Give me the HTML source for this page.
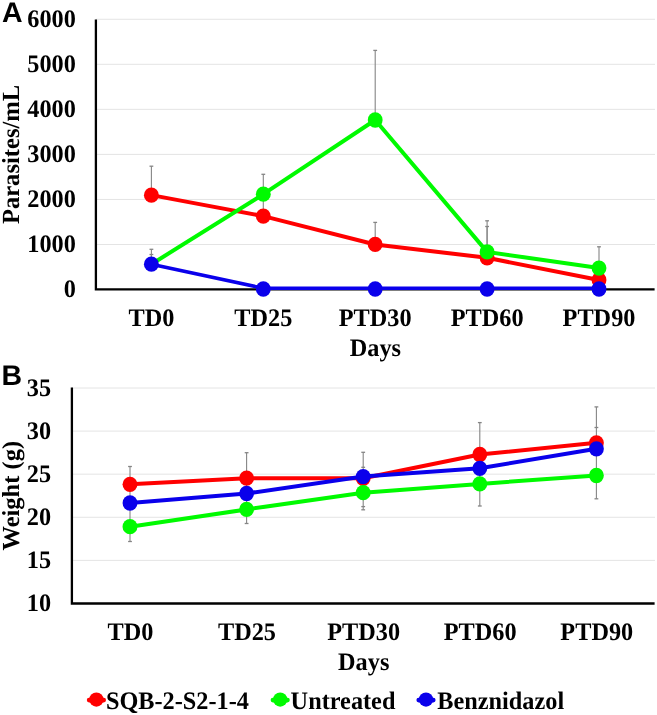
<!DOCTYPE html><html><head><meta charset="utf-8"><style>html,body{margin:0;padding:0;background:#fff;overflow:hidden;}svg{display:block;will-change:transform;}text{text-rendering:geometricPrecision;}.s{font-family:"Liberation Serif",serif;font-weight:bold;fill:#000;}.p{font-family:"Liberation Sans",sans-serif;font-weight:bold;fill:#000;}</style></head><body>
<svg width="657" height="715" viewBox="0 0 657 715" text-rendering="geometricPrecision">
<rect width="657" height="715" fill="#fff"/>
<line x1="95.90" y1="19.25" x2="655.00" y2="19.25" stroke="#e4e4e4" stroke-width="1.0"/>
<line x1="95.90" y1="64.30" x2="655.00" y2="64.30" stroke="#e4e4e4" stroke-width="1.0"/>
<line x1="95.90" y1="109.35" x2="655.00" y2="109.35" stroke="#e4e4e4" stroke-width="1.0"/>
<line x1="95.90" y1="154.40" x2="655.00" y2="154.40" stroke="#e4e4e4" stroke-width="1.0"/>
<line x1="95.90" y1="199.45" x2="655.00" y2="199.45" stroke="#e4e4e4" stroke-width="1.0"/>
<line x1="95.90" y1="244.50" x2="655.00" y2="244.50" stroke="#e4e4e4" stroke-width="1.0"/>
<text class="s" transform="translate(75.90 27.05) scale(1 1.035)" font-size="24.3" text-anchor="end">6000</text>
<text class="s" transform="translate(75.90 72.10) scale(1 1.035)" font-size="24.3" text-anchor="end">5000</text>
<text class="s" transform="translate(75.90 117.15) scale(1 1.035)" font-size="24.3" text-anchor="end">4000</text>
<text class="s" transform="translate(75.90 162.20) scale(1 1.035)" font-size="24.3" text-anchor="end">3000</text>
<text class="s" transform="translate(75.90 207.25) scale(1 1.035)" font-size="24.3" text-anchor="end">2000</text>
<text class="s" transform="translate(75.90 252.30) scale(1 1.035)" font-size="24.3" text-anchor="end">1000</text>
<text class="s" transform="translate(75.90 297.20) scale(1 1.035)" font-size="24.3" text-anchor="end">0</text>
<line x1="151.40" y1="166.20" x2="151.40" y2="195.15" stroke="#858585" stroke-width="1.1"/>
<line x1="149.50" y1="166.20" x2="153.30" y2="166.20" stroke="#858585" stroke-width="1.3"/>
<line x1="151.40" y1="249.30" x2="151.40" y2="264.20" stroke="#858585" stroke-width="1.1"/>
<line x1="149.50" y1="249.30" x2="153.30" y2="249.30" stroke="#858585" stroke-width="1.3"/>
<line x1="151.40" y1="254.50" x2="151.40" y2="264.20" stroke="#858585" stroke-width="1.1"/>
<line x1="149.50" y1="254.50" x2="153.30" y2="254.50" stroke="#858585" stroke-width="1.3"/>
<line x1="263.30" y1="174.30" x2="263.30" y2="194.20" stroke="#858585" stroke-width="1.1"/>
<line x1="261.40" y1="174.30" x2="265.20" y2="174.30" stroke="#858585" stroke-width="1.3"/>
<line x1="263.30" y1="200.00" x2="263.30" y2="216.10" stroke="#858585" stroke-width="1.1"/>
<line x1="261.40" y1="200.00" x2="265.20" y2="200.00" stroke="#858585" stroke-width="1.3"/>
<line x1="375.20" y1="50.40" x2="375.20" y2="120.00" stroke="#858585" stroke-width="1.1"/>
<line x1="373.30" y1="50.40" x2="377.10" y2="50.40" stroke="#858585" stroke-width="1.3"/>
<line x1="375.20" y1="222.40" x2="375.20" y2="244.45" stroke="#858585" stroke-width="1.1"/>
<line x1="373.30" y1="222.40" x2="377.10" y2="222.40" stroke="#858585" stroke-width="1.3"/>
<line x1="487.10" y1="220.80" x2="487.10" y2="251.90" stroke="#858585" stroke-width="1.1"/>
<line x1="485.20" y1="220.80" x2="489.00" y2="220.80" stroke="#858585" stroke-width="1.3"/>
<line x1="487.10" y1="226.50" x2="487.10" y2="257.80" stroke="#858585" stroke-width="1.1"/>
<line x1="485.20" y1="226.50" x2="489.00" y2="226.50" stroke="#858585" stroke-width="1.3"/>
<line x1="599.00" y1="246.80" x2="599.00" y2="268.10" stroke="#858585" stroke-width="1.1"/>
<line x1="597.10" y1="246.80" x2="600.90" y2="246.80" stroke="#858585" stroke-width="1.3"/>
<path d="M95.9 19.4 V289.3 H654.6" fill="none" stroke="#000" stroke-width="2.3"/>
<polyline points="151.40,195.15 263.30,216.10 375.20,244.45 487.10,257.80 599.00,280.00" fill="none" stroke="rgb(255,0,0)" stroke-width="4.0" stroke-linejoin="round"/>
<ellipse cx="151.40" cy="195.15" rx="7.45" ry="7.65" fill="rgb(255,0,0)"/>
<ellipse cx="263.30" cy="216.10" rx="7.45" ry="7.65" fill="rgb(255,0,0)"/>
<ellipse cx="375.20" cy="244.45" rx="7.45" ry="7.65" fill="rgb(255,0,0)"/>
<ellipse cx="487.10" cy="257.80" rx="7.45" ry="7.65" fill="rgb(255,0,0)"/>
<ellipse cx="599.00" cy="280.00" rx="7.45" ry="7.65" fill="rgb(255,0,0)"/>
<polyline points="151.40,264.20 263.30,194.20 375.20,120.00 487.10,251.90 599.00,268.10" fill="none" stroke="rgb(0,250,0)" stroke-width="4.0" stroke-linejoin="round"/>
<ellipse cx="263.30" cy="194.20" rx="7.45" ry="7.65" fill="rgb(0,250,0)"/>
<ellipse cx="375.20" cy="120.00" rx="7.45" ry="7.65" fill="rgb(0,250,0)"/>
<ellipse cx="487.10" cy="251.90" rx="7.45" ry="7.65" fill="rgb(0,250,0)"/>
<ellipse cx="599.00" cy="268.10" rx="7.45" ry="7.65" fill="rgb(0,250,0)"/>
<polyline points="151.40,264.20 263.30,288.20 375.20,288.20 487.10,288.20 599.00,288.20" fill="none" stroke="rgb(10,0,235)" stroke-width="3.5" stroke-linejoin="round"/>
<ellipse cx="151.40" cy="264.20" rx="7.45" ry="7.65" fill="rgb(10,0,235)"/>
<ellipse cx="263.30" cy="289.00" rx="7.45" ry="7.65" fill="rgb(10,0,235)"/>
<ellipse cx="375.20" cy="289.00" rx="7.45" ry="7.65" fill="rgb(10,0,235)"/>
<ellipse cx="487.10" cy="289.00" rx="7.45" ry="7.65" fill="rgb(10,0,235)"/>
<ellipse cx="599.00" cy="289.00" rx="7.45" ry="7.65" fill="rgb(10,0,235)"/>
<text class="s" transform="translate(151.40 325.70) scale(1 1.035)" font-size="24.3" text-anchor="middle">TD0</text>
<text class="s" transform="translate(263.30 325.70) scale(1 1.035)" font-size="24.3" text-anchor="middle">TD25</text>
<text class="s" transform="translate(375.20 325.70) scale(1 1.035)" font-size="24.3" text-anchor="middle">PTD30</text>
<text class="s" transform="translate(487.10 325.70) scale(1 1.035)" font-size="24.3" text-anchor="middle">PTD60</text>
<text class="s" transform="translate(599.00 325.70) scale(1 1.035)" font-size="24.3" text-anchor="middle">PTD90</text>
<text class="s" transform="translate(375.40 355.90) scale(1 1.035)" font-size="24.3" text-anchor="middle">Days</text>
<text class="s" font-size="24.6" text-anchor="middle" transform="translate(19.3 154.45) rotate(-90)">Parasites/mL</text>
<text class="p" x="1.9" y="21.7" font-size="28.5">A</text>
<line x1="71.90" y1="388.00" x2="655.00" y2="388.00" stroke="#e4e4e4" stroke-width="1.0"/>
<line x1="71.90" y1="431.09" x2="655.00" y2="431.09" stroke="#e4e4e4" stroke-width="1.0"/>
<line x1="71.90" y1="474.18" x2="655.00" y2="474.18" stroke="#e4e4e4" stroke-width="1.0"/>
<line x1="71.90" y1="517.27" x2="655.00" y2="517.27" stroke="#e4e4e4" stroke-width="1.0"/>
<line x1="71.90" y1="560.36" x2="655.00" y2="560.36" stroke="#e4e4e4" stroke-width="1.0"/>
<text class="s" transform="translate(51.10 395.85) scale(1 1.035)" font-size="24.3" text-anchor="end">35</text>
<text class="s" transform="translate(51.10 438.94) scale(1 1.035)" font-size="24.3" text-anchor="end">30</text>
<text class="s" transform="translate(51.10 482.03) scale(1 1.035)" font-size="24.3" text-anchor="end">25</text>
<text class="s" transform="translate(51.10 525.12) scale(1 1.035)" font-size="24.3" text-anchor="end">20</text>
<text class="s" transform="translate(51.10 568.21) scale(1 1.035)" font-size="24.3" text-anchor="end">15</text>
<text class="s" transform="translate(51.10 611.35) scale(1 1.035)" font-size="24.3" text-anchor="end">10</text>
<line x1="130.00" y1="466.50" x2="130.00" y2="541.50" stroke="#858585" stroke-width="1.1"/>
<line x1="128.10" y1="466.50" x2="131.90" y2="466.50" stroke="#858585" stroke-width="1.3"/>
<line x1="128.10" y1="541.50" x2="131.90" y2="541.50" stroke="#858585" stroke-width="1.3"/>
<line x1="246.60" y1="452.70" x2="246.60" y2="523.50" stroke="#858585" stroke-width="1.1"/>
<line x1="244.70" y1="452.70" x2="248.50" y2="452.70" stroke="#858585" stroke-width="1.3"/>
<line x1="244.70" y1="523.50" x2="248.50" y2="523.50" stroke="#858585" stroke-width="1.3"/>
<line x1="363.20" y1="452.30" x2="363.20" y2="509.80" stroke="#858585" stroke-width="1.1"/>
<line x1="361.30" y1="452.30" x2="365.10" y2="452.30" stroke="#858585" stroke-width="1.3"/>
<line x1="361.30" y1="509.80" x2="365.10" y2="509.80" stroke="#858585" stroke-width="1.3"/>
<line x1="479.80" y1="422.60" x2="479.80" y2="506.00" stroke="#858585" stroke-width="1.1"/>
<line x1="477.90" y1="422.60" x2="481.70" y2="422.60" stroke="#858585" stroke-width="1.3"/>
<line x1="477.90" y1="506.00" x2="481.70" y2="506.00" stroke="#858585" stroke-width="1.3"/>
<line x1="596.40" y1="406.90" x2="596.40" y2="498.80" stroke="#858585" stroke-width="1.1"/>
<line x1="594.50" y1="406.90" x2="598.30" y2="406.90" stroke="#858585" stroke-width="1.3"/>
<line x1="594.50" y1="498.80" x2="598.30" y2="498.80" stroke="#858585" stroke-width="1.3"/>
<line x1="361.30" y1="467.30" x2="365.10" y2="467.30" stroke="#858585" stroke-width="1.3"/>
<line x1="361.30" y1="506.60" x2="365.10" y2="506.60" stroke="#858585" stroke-width="1.3"/>
<line x1="594.50" y1="427.50" x2="598.30" y2="427.50" stroke="#858585" stroke-width="1.3"/>
<path d="M71.9 387.6 V603.5 H654.6" fill="none" stroke="#000" stroke-width="2.3"/>
<polyline points="130.00,484.30 246.60,478.20 363.20,478.30 479.80,454.50 596.40,442.80" fill="none" stroke="rgb(255,0,0)" stroke-width="4.0" stroke-linejoin="round"/>
<ellipse cx="130.00" cy="484.30" rx="7.45" ry="7.65" fill="rgb(255,0,0)"/>
<ellipse cx="246.60" cy="478.20" rx="7.45" ry="7.65" fill="rgb(255,0,0)"/>
<ellipse cx="363.20" cy="478.30" rx="7.45" ry="7.65" fill="rgb(255,0,0)"/>
<ellipse cx="479.80" cy="454.50" rx="7.45" ry="7.65" fill="rgb(255,0,0)"/>
<ellipse cx="596.40" cy="442.80" rx="7.45" ry="7.65" fill="rgb(255,0,0)"/>
<polyline points="130.00,526.70 246.60,509.40 363.20,492.70 479.80,483.90 596.40,475.50" fill="none" stroke="rgb(0,250,0)" stroke-width="4.0" stroke-linejoin="round"/>
<ellipse cx="130.00" cy="526.70" rx="7.45" ry="7.65" fill="rgb(0,250,0)"/>
<ellipse cx="246.60" cy="509.40" rx="7.45" ry="7.65" fill="rgb(0,250,0)"/>
<ellipse cx="363.20" cy="492.70" rx="7.45" ry="7.65" fill="rgb(0,250,0)"/>
<ellipse cx="479.80" cy="483.90" rx="7.45" ry="7.65" fill="rgb(0,250,0)"/>
<ellipse cx="596.40" cy="475.50" rx="7.45" ry="7.65" fill="rgb(0,250,0)"/>
<polyline points="130.00,503.00 246.60,493.50 363.20,476.60 479.80,468.30 596.40,448.80" fill="none" stroke="rgb(10,0,235)" stroke-width="4.0" stroke-linejoin="round"/>
<ellipse cx="130.00" cy="503.00" rx="7.45" ry="7.65" fill="rgb(10,0,235)"/>
<ellipse cx="246.60" cy="493.50" rx="7.45" ry="7.65" fill="rgb(10,0,235)"/>
<ellipse cx="363.20" cy="476.60" rx="7.45" ry="7.65" fill="rgb(10,0,235)"/>
<ellipse cx="479.80" cy="468.30" rx="7.45" ry="7.65" fill="rgb(10,0,235)"/>
<ellipse cx="596.40" cy="448.80" rx="7.45" ry="7.65" fill="rgb(10,0,235)"/>
<text class="s" transform="translate(130.40 639.70) scale(1 1.035)" font-size="24.3" text-anchor="middle">TD0</text>
<text class="s" transform="translate(247.00 639.70) scale(1 1.035)" font-size="24.3" text-anchor="middle">TD25</text>
<text class="s" transform="translate(363.60 639.70) scale(1 1.035)" font-size="24.3" text-anchor="middle">PTD30</text>
<text class="s" transform="translate(480.20 639.70) scale(1 1.035)" font-size="24.3" text-anchor="middle">PTD60</text>
<text class="s" transform="translate(596.80 639.70) scale(1 1.035)" font-size="24.3" text-anchor="middle">PTD90</text>
<text class="s" transform="translate(363.70 670.30) scale(1 1.035)" font-size="24.3" text-anchor="middle">Days</text>
<text class="s" font-size="24.5" text-anchor="middle" transform="translate(18.8 495.7) rotate(-90)">Weight (g)</text>
<text class="p" x="1.6" y="384.7" font-size="28.5">B</text>
<line x1="89.10" y1="700.1" x2="103.70" y2="700.1" stroke="rgb(255,0,0)" stroke-width="4.6" stroke-linecap="round"/>
<ellipse cx="96.40" cy="699.6" rx="7.2" ry="7.1" fill="rgb(255,0,0)"/>
<text class="s" transform="translate(105.90 708.90) scale(1 1.035)" font-size="24.3" text-anchor="start">SQB-2-S2-1-4</text>
<line x1="272.90" y1="700.1" x2="287.50" y2="700.1" stroke="rgb(0,250,0)" stroke-width="4.6" stroke-linecap="round"/>
<ellipse cx="280.20" cy="699.6" rx="7.2" ry="7.1" fill="rgb(0,250,0)"/>
<text class="s" transform="translate(290.60 708.90) scale(1 1.035)" font-size="24.3" text-anchor="start">Untreated</text>
<line x1="418.70" y1="700.1" x2="433.30" y2="700.1" stroke="rgb(10,0,235)" stroke-width="4.6" stroke-linecap="round"/>
<ellipse cx="426.00" cy="699.6" rx="7.2" ry="7.1" fill="rgb(10,0,235)"/>
<text class="s" transform="translate(437.30 708.90) scale(1 1.035)" font-size="24.3" text-anchor="start">Benznidazol</text>
</svg></body></html>
